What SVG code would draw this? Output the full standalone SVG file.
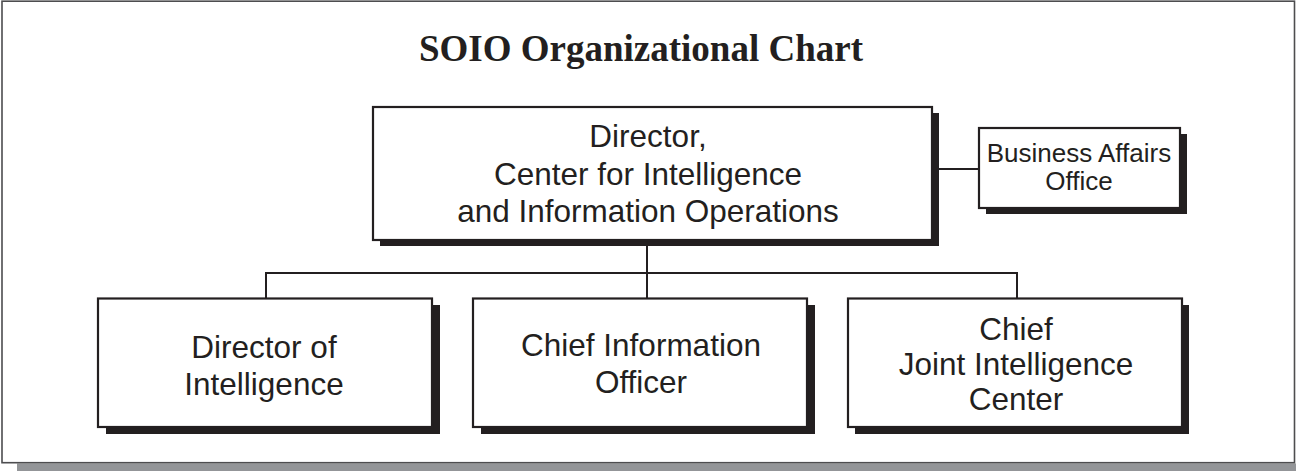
<svg xmlns="http://www.w3.org/2000/svg" width="1296" height="471" viewBox="0 0 1296 471">
<style>
.box{fill:#fff;stroke:#231f20;stroke-width:2.2}
.sh{fill:#231f20}
.t{font-family:"Liberation Sans",Arial,sans-serif;font-size:31.5px;fill:#231f20;text-anchor:middle}
.ts{font-family:"Liberation Sans",Arial,sans-serif;font-size:26px;fill:#231f20;text-anchor:middle}
.c{stroke:#231f20;stroke-width:2;fill:none}
</style>
<rect x="0" y="0" width="1296" height="471" fill="#fff"/>
<rect x="17" y="463.5" width="1279" height="7.5" fill="#939598"/>
<rect x="2" y="1.2" width="1292.5" height="461.5" fill="#fff" stroke="#4d4d4f" stroke-width="1.6"/>
<text x="641" y="61" font-family="Liberation Serif,'Times New Roman',serif" font-weight="bold" font-size="37" fill="#231f20" text-anchor="middle">SOIO Organizational Chart</text>
<g id="connectors">
<line class="c" x1="938" y1="169" x2="979" y2="169"/>
<line class="c" x1="647" y1="246" x2="647" y2="273"/>
<line class="c" x1="266" y1="273" x2="1017" y2="273"/>
<line class="c" x1="266" y1="272" x2="266" y2="299"/>
<line class="c" x1="647" y1="272" x2="647" y2="299"/>
<line class="c" x1="1017" y1="272" x2="1017" y2="299"/>
</g>
<g id="director">
<rect class="sh" x="380" y="113" width="559" height="133"/>
<rect class="box" x="373" y="107" width="559" height="133"/>
<text class="t" x="648" y="147">Director,</text>
<text class="t" x="648" y="185">Center for Intelligence</text>
<text class="t" x="648" y="222">and Information Operations</text>
</g>
<g id="business">
<rect class="sh" x="986" y="134" width="201" height="80"/>
<rect class="box" x="979" y="128" width="201" height="80"/>
<text class="ts" x="1079" y="162">Business Affairs</text>
<text class="ts" x="1079" y="190">Office</text>
</g>
<g id="doi">
<rect class="sh" x="106" y="305" width="334" height="129"/>
<rect class="box" x="98" y="298.5" width="334" height="128.5"/>
<text class="t" x="264" y="358">Director of</text>
<text class="t" x="264" y="395">Intelligence</text>
</g>
<g id="cio">
<rect class="sh" x="481" y="305" width="334" height="129"/>
<rect class="box" x="473" y="298.5" width="334" height="128.5"/>
<text class="t" x="641" y="356">Chief Information</text>
<text class="t" x="641" y="393">Officer</text>
</g>
<g id="jic">
<rect class="sh" x="855" y="305" width="334" height="129"/>
<rect class="box" x="848" y="298.5" width="334" height="128.5"/>
<text class="t" x="1016" y="340">Chief</text>
<text class="t" x="1016" y="375">Joint Intelligence</text>
<text class="t" x="1016" y="410">Center</text>
</g>
</svg>
